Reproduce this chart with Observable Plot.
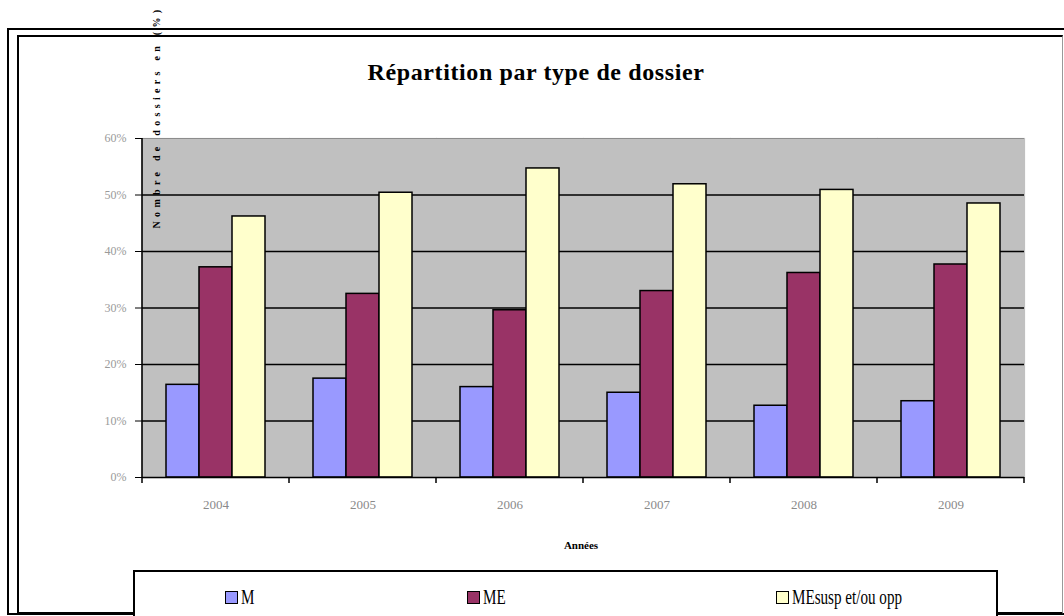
<!DOCTYPE html>
<html><head><meta charset="utf-8">
<script src="https://cdn.jsdelivr.net/npm/d3@7"></script>
<script src="https://cdn.jsdelivr.net/npm/@observablehq/plot@0.6"></script>
<style>
body{margin:0;background:#fff;}
#wrap{position:relative;width:1064px;height:616px;overflow:hidden;background:#fff;font-family:"Liberation Serif",serif;}
.abs{position:absolute;}
#outer{left:7px;top:28px;width:1100px;height:583px;border:2px solid #000;}
#inner{left:17px;top:35px;width:1043px;height:575px;border-left:2px solid #000;border-top:2px solid #000;border-bottom:2px solid #000;border-right:1px solid #999;}
#title{left:0;top:59px;width:1072px;text-align:center;font-weight:bold;font-size:24px;line-height:26px;letter-spacing:0.6px;}
#ytitle{left:156px;top:117px;transform:translate(-50%,-50%) rotate(-90deg);white-space:nowrap;font-weight:bold;font-size:10px;letter-spacing:4.3px;}
#xtitle{left:581px;top:545px;transform:translate(-50%,-50%);font-weight:bold;font-size:11px;}
#legend{left:133px;top:570px;width:861px;height:70px;border:2px solid #000;background:#fff;}
.item{position:absolute;top:14px;display:flex;align-items:center;line-height:22px;}
.item span{display:inline-block;font-size:21px;transform:scaleX(0.72);transform-origin:left center;white-space:nowrap;}
.sw{width:11px;height:11px;border:1px solid #000;margin-right:3px;}
#chart{left:0;top:0;}
</style></head><body><div id="wrap">
<div class="abs" id="outer"></div>
<div class="abs" id="inner"></div>
<div class="abs" id="title">Répartition par type de dossier</div>
<div class="abs" id="chart"></div>
<div class="abs" id="ytitle">Nombre de dossiers en (%)</div>
<div class="abs" id="xtitle">Années</div>
<div class="abs" id="legend"></div>
</div>
<script>
const years = ["2004", "2005", "2006", "2007", "2008", "2009"];
const series = ["M", "ME", "MEsusp et/ou opp"];
const valuesM = [16.4, 17.5, 16.0, 15.0, 12.7, 13.5];
const valuesME = [37.2, 32.5, 29.6, 33.0, 36.2, 37.7];
const valuesMEsusp = [46.2, 50.4, 54.7, 51.9, 50.9, 48.5];
const yTicks = [0, 10, 20, 30, 40, 50, 60];
const colors = ["#9999ff", "#993366", "#ffffcc"];
const legendX = [90, 332, 641];

const seriesValues = [valuesM, valuesME, valuesMEsusp];
const data = years.flatMap((yr, i) => series.map((s, j) => ({year: yr, s, v: seriesValues[j][i]})));

const plot = Plot.plot({
  width: 1064, height: 616,
  marginLeft: 140, marginRight: 39, marginTop: 138, marginBottom: 139,
  style: {background: "transparent", fontFamily: "Liberation Serif", fontSize: "12px", color: "#000", overflow: "visible"},
  fx: {domain: years, padding: 0, label: null, axis: null},
  x: {domain: series, paddingInner: 0, paddingOuter: 0.72, axis: null},
  y: {domain: [0, 60], axis: null},
  color: {domain: series, range: colors},
  marks: [
    Plot.frame({fill: "#c0c0c0", stroke: "#c0c0c0", strokeWidth: 1.2}),
    Plot.ruleY(yTicks.filter(t => t > 0 && t < 60), {stroke: "#000", strokeWidth: 1.6}),
    Plot.ruleY([60], {stroke: "#8c8c8c", strokeWidth: 1}),
    Plot.barY(data, {fx: "year", x: "s", y: "v", fill: "s", stroke: "#000", strokeWidth: 1.5}),
    Plot.ruleY([0], {stroke: "#000", strokeWidth: 1.6}),
    Plot.axisY({ticks: yTicks, tickFormat: d => d + "%", tickSize: 7, tickPadding: 9, stroke: "#000", fill: "#9a9a9a", fontSize: 12, label: null}),
    Plot.axisFx({anchor: "bottom", tickSize: 0, tickPadding: 22, fill: "#8a8a8a", fontSize: 13, label: null})
  ]
});
document.getElementById("chart").appendChild(plot);

// axis line and category boundary ticks from the library's scales
const fx = plot.scale("fx"), y = plot.scale("y");
const svg = d3.select(plot);
const x0 = fx.apply(years[0]);
const y0 = y.apply(0), yTop = y.apply(60);
svg.append("line").attr("x1", x0).attr("x2", x0).attr("y1", yTop).attr("y2", y0 + 1).attr("stroke", "#000").attr("stroke-width", 1.6);
const bounds = years.map(yr => fx.apply(yr)).concat([fx.apply(years[years.length - 1]) + fx.bandwidth]);
bounds.forEach(b => svg.append("line").attr("x1", b).attr("x2", b).attr("y1", y0).attr("y2", y0 + 6).attr("stroke", "#000").attr("stroke-width", 1.5));

// legend
const legend = d3.select("#legend");
series.forEach((s, i) => {
  const it = legend.append("div").attr("class", "item").style("left", legendX[i] + "px");
  it.append("div").attr("class", "sw").style("background", colors[i]);
  it.append("span").text(s);
});
</script>
</body></html>
